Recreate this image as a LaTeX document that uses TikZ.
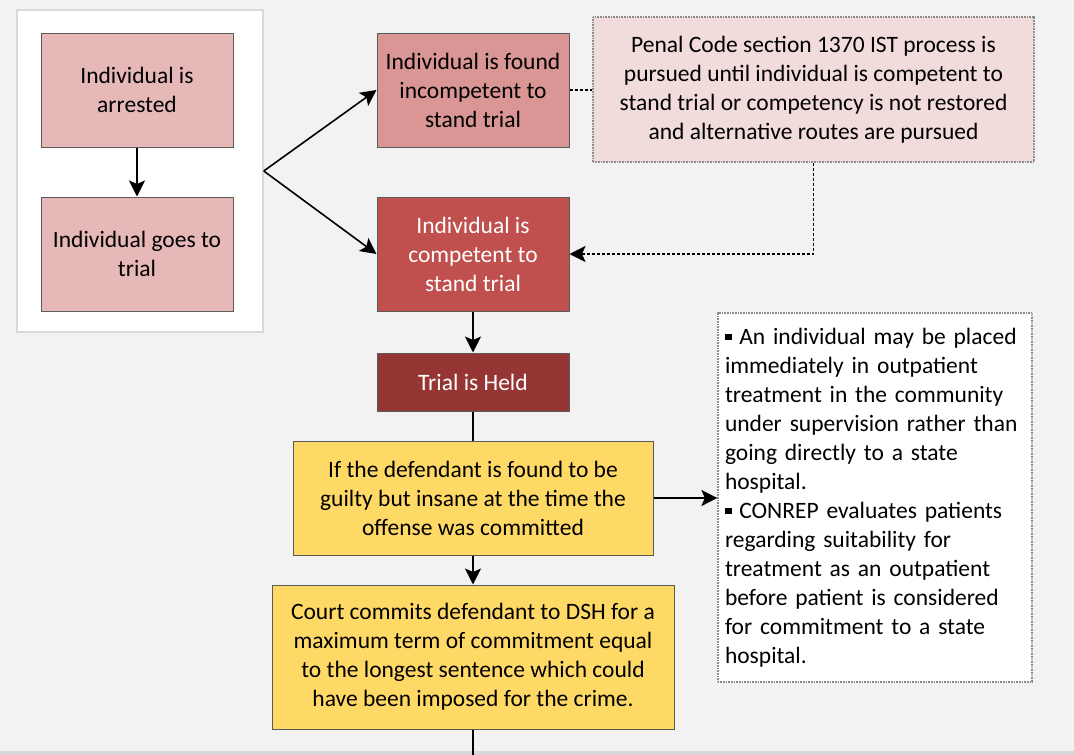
\documentclass[tikz,border=0pt]{standalone}
\usepackage{fontspec}
\setmainfont{Carlito}
\usetikzlibrary{arrows.meta}
\definecolor{bgc}{HTML}{F2F2F2}
\definecolor{stripc}{HTML}{D9D9D9}
\definecolor{framec}{HTML}{D9D9D9}
\definecolor{pinkA}{HTML}{E6B8B7}
\definecolor{pinkB}{HTML}{DA9694}
\definecolor{redA}{HTML}{C0504D}
\definecolor{redB}{HTML}{963634}
\definecolor{pinkC}{HTML}{F2DCDB}
\definecolor{yel}{HTML}{FFD966}
\definecolor{edgec}{HTML}{5A5A5A}
\definecolor{dotc}{HTML}{8C8C8C}
\newcommand{\sqbul}{\rule[4pt]{6.5pt}{6.5pt}}
\tikzset{
  txt/.style={font=\fontsize{23.5pt}{29pt}\selectfont},
  box/.style={txt, rectangle, draw=edgec, line width=1pt, align=center, inner sep=0pt},
  dbox/.style={txt, rectangle, draw=dotc, line width=1.2pt, dash pattern=on 1pt off 0.6pt, inner sep=0pt},
  arr/.style={line width=1.6pt, -{Stealth[length=16pt,width=16pt,inset=3.5pt]}},
  pl/.style={line width=1.6pt},
  dotarr/.style={line width=1.6pt, dash pattern=on 3pt off 2pt, -{Stealth[length=16pt,width=16pt,inset=3.5pt]}},
  dotl/.style={line width=1.6pt, dash pattern=on 3pt off 2pt}
}
\begin{document}
\begin{tikzpicture}[x=1pt,y=-1pt]
\useasboundingbox (0,0) rectangle (1074,755);
\fill[bgc] (0,0) rectangle (1074,755);
\fill[stripc] (0,751) rectangle (1074,755);

\node[rectangle, fill=white, draw=framec, line width=1.5pt, minimum width=246pt, minimum height=322pt, inner sep=0pt] (frame) at (140,171) {};

\node[box, fill=pinkA, minimum width=192pt, minimum height=114pt] (arrested) at (137,90) {Individual is\\arrested};
\node[box, fill=pinkA, minimum width=192pt, minimum height=114pt] (trial) at (137,254) {Individual goes to\\trial};

\node[box, fill=pinkB, minimum width=192pt, minimum height=114pt] (incomp) at (473,90) {Individual is found\\incompetent to\\stand trial};
\node[box, fill=redA, text=white, minimum width=192pt, minimum height=114pt] (comp) at (473,254) {Individual is\\competent to\\stand trial};
\node[box, fill=redB, text=white, minimum width=192pt, minimum height=58pt] (held) at (473,382) {Trial is Held};

\node[dbox, fill=pinkC, align=center, minimum width=441pt, minimum height=145pt] (penal) at (813.5,89.5) {Penal Code section 1370 IST process is\\pursued until individual is competent to\\stand trial or competency is not restored\\and alternative routes are pursued};

\node[box, fill=yel, minimum width=360pt, minimum height=114pt] (ins) at (473,498) {If the defendant is found to be\\guilty but insane at the time the\\offense was committed};
\node[box, fill=yel, minimum width=402pt, minimum height=144pt] (court) at (473,657) {Court commits defendant to DSH for a\\maximum term of commitment equal\\to the longest sentence which could\\have been imposed for the crime.};

\node[dbox, fill=white, align=left, text width=300pt, inner xsep=7pt, minimum height=369pt] (note) at (875,497.5) {\sqbul\ An individual may be placed\\immediately in outpatient\\treatment in the community\\under supervision rather than\\going directly to a state\\hospital.\\\sqbul\ CONREP evaluates patients\\regarding suitability for\\treatment as an outpatient\\before patient is considered\\for commitment to a state\\hospital.};

\coordinate (br) at (frame.east);
\coordinate (out) at (473,755);

\draw[arr] (arrested) -- (trial);
\draw[arr] (br) -- (incomp.west);
\draw[arr] (br) -- (comp.west);
\draw[arr] (comp) -- (held);
\draw[pl] (held) -- (ins);
\draw[arr] (ins) -- (court);
\draw[arr] (ins.east) -- (note.west |- ins.east);
\draw[pl] (court.south) -- (out);
\draw[dotl] (incomp.east) -- (penal.west |- incomp.east);
\draw[dotarr] (penal.south) |- (comp.east);
\end{tikzpicture}
\end{document}
